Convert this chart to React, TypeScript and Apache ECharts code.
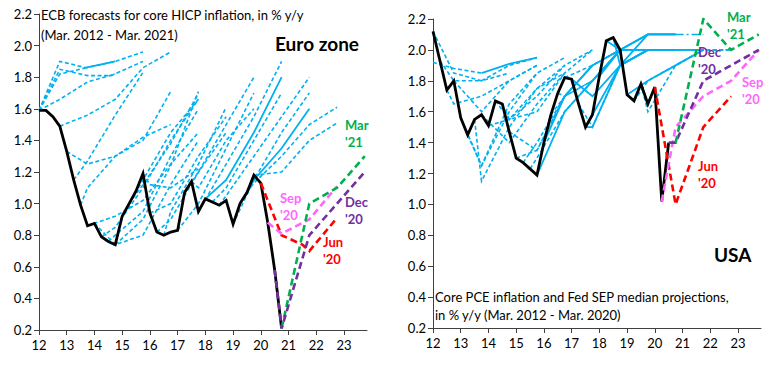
import React, { useEffect, useRef } from "react";
import * as echarts from "echarts";

type Pt = [number, number];

// ---------- Euro zone ----------
const euroActual: Pt[] = [
  [12.0, 1.59], [12.25, 1.59], [12.5, 1.55], [12.75, 1.49], [13.0, 1.33], [13.25, 1.15],
  [13.5, 0.99], [13.75, 0.86], [14.0, 0.875], [14.25, 0.79], [14.5, 0.76], [14.75, 0.74],
  [15.0, 0.92], [15.25, 1.0], [15.5, 1.08], [15.75, 1.19], [16.0, 0.94], [16.25, 0.82],
  [16.5, 0.8], [16.75, 0.82], [17.0, 0.83], [17.25, 1.07], [17.5, 1.14], [17.75, 0.95],
  [18.0, 1.03], [18.25, 1.01], [18.5, 0.99], [18.75, 1.02], [19.0, 0.87], [19.25, 1.0],
  [19.5, 1.07], [19.75, 1.18], [20.0, 1.13], [20.25, 0.88], [20.5, 0.58], [20.75, 0.21],
];

const euroForecasts: Pt[][] = [
  [[12, 1.59], [12.75, 1.9], [13.7, 1.86], [14.75, 1.9], [15.75, 1.96]],
  [[12, 1.59], [12.75, 1.85], [13.75, 1.81], [14.6, 1.81], [15.75, 1.9]],
  [[12, 1.59], [12.75, 1.82], [13.7, 1.86]],
  [[13.7, 1.86], [14.75, 1.9]],
  [[12.0, 1.59], [12.75, 1.66], [13.75, 1.77], [14.75, 1.82]],
  [[12.75, 1.49], [13.75, 1.56], [14.75, 1.66], [15.75, 1.86], [16.75, 1.96]],
  [[13.0, 1.33], [13.75, 1.25], [14.75, 1.3], [15.75, 1.4], [16.75, 1.71]],
  [[13.25, 1.15], [13.75, 1.27], [14.75, 1.56], [15.75, 1.83]],
  [[13.5, 0.99], [13.75, 1.1], [14.75, 1.3], [15.75, 1.42], [16.75, 1.5]],
  [[13.75, 0.86], [14.75, 0.92], [15.75, 1.02], [16.75, 1.25], [17.75, 1.45]],
  [[14.0, 0.875], [14.75, 0.74], [15.75, 0.8], [16.75, 1.12], [17.75, 1.4]],
  [[14.25, 0.79], [14.75, 0.85], [15.75, 1.1], [16.75, 1.4], [17.75, 1.66]],
  [[14.5, 0.76], [14.75, 0.8], [15.75, 0.95], [16.75, 1.3], [17.75, 1.6]],
  [[14.75, 0.74], [15.75, 0.9], [16.75, 1.24], [17.75, 1.71]],
  [[15.0, 0.92], [15.75, 1.15], [16.75, 1.45], [17.75, 1.66]],
  [[15.25, 1.0], [15.75, 1.12], [16.75, 1.38], [17.75, 1.7]],
  [[15.75, 1.19], [16.0, 1.12], [16.75, 1.1], [17.75, 1.22]],
  [[16.0, 0.94], [16.75, 1.0], [17.75, 1.3], [18.75, 1.55]],
  [[16.25, 0.82], [16.75, 0.9], [17.75, 1.2], [18.75, 1.45]],
  [[16.5, 0.8], [16.75, 0.95], [17.75, 1.25], [18.75, 1.61]],
  [[17.0, 0.83], [17.75, 1.0], [18.75, 1.35], [19.75, 1.7]],
  [[17.25, 1.07], [17.75, 1.2], [18.75, 1.5], [19.75, 1.8]],
  [[17.5, 1.14], [17.75, 1.1], [18.75, 1.4], [19.75, 1.6]],
  [[17.75, 0.95], [18.75, 1.25], [19.75, 1.55], [20.75, 1.9]],
  [[18.0, 1.03], [18.75, 1.15], [19.75, 1.45], [20.75, 1.8]],
  [[18.25, 1.01], [18.75, 1.1], [19.75, 1.4], [20.75, 1.7]],
  [[18.5, 0.99], [18.75, 1.05], [19.75, 1.3], [20.75, 1.55], [21.75, 1.8]],
  [[19.0, 0.87], [19.75, 1.15], [20.75, 1.45], [21.75, 1.7]],
  [[19.25, 1.0], [19.75, 1.15], [20.75, 1.35], [21.75, 1.6]],
  [[19.5, 1.07], [19.75, 1.13], [20.75, 1.3], [21.75, 1.5], [22.75, 1.61]],
  [[19.75, 1.18], [20.75, 1.2], [21.75, 1.4], [22.75, 1.51]],
];
const euroSolid: number[] = [3, 24, 28];

const euroJun20: Pt[] = [[20.0, 1.13], [20.75, 0.8], [21.5, 0.74], [21.75, 0.7], [22.75, 0.91]];
const euroSep20: Pt[] = [[20.25, 0.88], [20.75, 0.81], [21.75, 0.9], [22.75, 1.11]];
const euroDec20: Pt[] = [[20.5, 0.58], [20.75, 0.21], [21.75, 0.8], [22.75, 1.0], [23.75, 1.2]];
const euroMar21: Pt[] = [[20.75, 0.21], [21.75, 1.0], [22.75, 1.1], [23.75, 1.3]];

// ---------- USA ----------
const usActual: Pt[] = [
  [12.0, 2.12], [12.25, 1.93], [12.5, 1.74], [12.75, 1.8], [13.0, 1.56], [13.25, 1.45],
  [13.5, 1.55], [13.75, 1.58], [14.0, 1.51], [14.25, 1.67], [14.5, 1.65], [14.75, 1.47],
  [15.0, 1.3], [15.25, 1.27], [15.5, 1.23], [15.75, 1.19], [16.0, 1.4], [16.25, 1.58],
  [16.5, 1.72], [16.75, 1.82], [17.0, 1.81], [17.25, 1.65], [17.5, 1.5], [17.75, 1.58],
  [18.0, 1.83], [18.25, 2.06], [18.5, 2.08], [18.75, 2.0], [19.0, 1.71], [19.25, 1.67],
  [19.5, 1.78], [19.75, 1.65], [20.0, 1.76], [20.25, 1.02], [20.5, 1.4],
];

const usForecasts: Pt[][] = [
  [[12.0, 1.92], [12.75, 1.88], [13.75, 1.85]],
  [[13.75, 1.85], [14.75, 1.91], [15.75, 1.95]],
  [[12.0, 2.12], [12.75, 1.85], [13.75, 1.8], [14.75, 1.85]],
  [[12.25, 1.93], [12.75, 1.8], [13.75, 1.8], [14.75, 1.9], [15.75, 1.95]],
  [[12.5, 1.74], [12.75, 1.65], [13.75, 1.7], [14.75, 1.8], [15.75, 1.9]],
  [[12.75, 1.8], [13.75, 1.6], [14.75, 1.8], [15.75, 1.9]],
  [[13.0, 1.56], [13.75, 1.25], [14.75, 1.65], [15.75, 1.85]],
  [[13.25, 1.45], [13.75, 1.25], [14.75, 1.6], [15.75, 1.85], [16.75, 1.95]],
  [[13.5, 1.55], [13.75, 1.15], [14.75, 1.5], [15.75, 1.75], [16.75, 1.85]],
  [[13.75, 1.58], [14.75, 1.4], [15.75, 1.65], [16.75, 1.85]],
  [[14.0, 1.51], [14.75, 1.55], [15.75, 1.7], [16.75, 1.9]],
  [[14.25, 1.67], [14.75, 1.55], [15.75, 1.75], [16.75, 1.9], [17.75, 2.0]],
  [[14.5, 1.65], [14.75, 1.55], [15.75, 1.6], [16.75, 1.85], [17.75, 2.0]],
  [[14.75, 1.47], [15.75, 1.35], [16.75, 1.7], [17.75, 1.9]],
  [[15.0, 1.3], [15.75, 1.35], [16.75, 1.7], [17.75, 1.9]],
  [[15.25, 1.27], [15.75, 1.4], [16.75, 1.7], [17.75, 1.9], [18.75, 2.0]],
  [[15.5, 1.23], [15.75, 1.3], [16.75, 1.6], [17.75, 1.8], [18.75, 2.0]],
  [[15.75, 1.19], [16.75, 1.6], [17.75, 1.8], [18.75, 2.0]],
  [[16.0, 1.4], [16.75, 1.7], [17.75, 1.9], [18.75, 2.0]],
  [[16.25, 1.58], [16.75, 1.7], [17.75, 1.8], [18.75, 2.0], [19.75, 2.0]],
  [[16.5, 1.72], [16.75, 1.7], [17.75, 1.8], [18.75, 2.0], [19.75, 2.0]],
  [[16.75, 1.82], [17.75, 1.9], [18.75, 2.0], [19.75, 2.0]],
  [[17.0, 1.81], [17.75, 1.7], [18.75, 1.9], [19.75, 2.0]],
  [[17.25, 1.65], [17.75, 1.5], [18.75, 1.9], [19.75, 2.0], [20.75, 2.0]],
  [[17.5, 1.5], [17.75, 1.5], [18.75, 1.9], [19.75, 2.0], [20.75, 2.0]],
  [[17.75, 1.58], [18.75, 1.9], [19.75, 2.1], [20.75, 2.1]],
  [[18.0, 1.83], [18.75, 2.0], [19.75, 2.1], [20.75, 2.1]],
  [[18.25, 2.06], [18.75, 2.0], [19.75, 2.1], [20.75, 2.1]],
  [[20.75, 2.1], [21.75, 2.1]],
  [[18.5, 2.08], [18.75, 1.9], [19.75, 2.0], [20.75, 2.0], [21.75, 2.0]],
  [[18.75, 2.0], [19.75, 2.0], [20.75, 2.0], [21.75, 2.0]],
  [[19.0, 1.71], [19.75, 1.8], [20.75, 1.9], [21.75, 2.0]],
  [[19.25, 1.67], [19.75, 1.8], [20.75, 1.9], [21.75, 2.0], [22.75, 2.0]],
  [[19.5, 1.78], [19.75, 1.6], [20.75, 1.9], [21.75, 2.0], [22.75, 2.0]],
];
const usSolid: number[] = [1, 17, 18, 22, 24, 25, 26, 27, 29, 30, 31];
const usDashDot: number[] = [28];

const usJun20: Pt[] = [[20.0, 1.76], [20.75, 1.0], [21.75, 1.5], [22.75, 1.7]];
const usSep20: Pt[] = [[20.25, 1.02], [20.75, 1.5], [21.75, 1.7], [22.75, 1.8], [23.75, 2.0]];
const usDec20: Pt[] = [[20.5, 1.4], [20.75, 1.4], [21.75, 1.8], [22.75, 1.9], [23.75, 2.0]];
const usMar21: Pt[] = [[20.75, 1.4], [21.75, 2.2], [22.75, 2.0], [23.75, 2.1]];

const BLUE = "#00B0F0";
const RED = "#FF0000";
const PINK = "#FF66FF";
const PURPLE = "#7030A0";
const GREEN = "#00B050";
const FONT = "Lato, 'Open Sans', sans-serif";

export default function App() {
  const ref = useRef<HTMLDivElement>(null);
  useEffect(() => {
    if (!ref.current) return;
    const chart = echarts.init(ref.current, undefined, { renderer: "svg" });

    const series: any[] = [];
    const addLine = (data: Pt[], idx: number, color: string, width: number, type: any, z: number) => {
      series.push({
        type: "line",
        xAxisIndex: idx,
        yAxisIndex: idx,
        data,
        showSymbol: false,
        symbol: "none",
        silent: true,
        z,
        lineStyle: { color, width, type, cap: "butt", join: "miter" },
      });
    };
    const blueDash = [4, 2.5];
    const bigDash = [7, 4];
    euroForecasts.forEach((d, i) =>
      addLine(d, 0, BLUE, euroSolid.includes(i) ? 1.8 : 1.6, euroSolid.includes(i) ? "solid" : blueDash, 2)
    );
    usForecasts.forEach((d, i) => {
      const solid = usSolid.includes(i);
      const dd = usDashDot.includes(i);
      addLine(d, 1, BLUE, solid ? 1.8 : 1.6, solid ? "solid" : dd ? [8, 3, 2, 3] : blueDash, 2);
    });
    addLine(euroActual, 0, "#000", 2.8, "solid", 3);
    addLine(usActual, 1, "#000", 2.8, "solid", 3);
    addLine(euroJun20, 0, RED, 2.6, bigDash, 4);
    addLine(euroSep20, 0, PINK, 2.6, bigDash, 4);
    addLine(euroDec20, 0, PURPLE, 2.6, bigDash, 5);
    addLine(euroMar21, 0, GREEN, 2.6, bigDash, 4);
    addLine(usJun20, 1, RED, 2.6, bigDash, 4);
    addLine(usSep20, 1, PINK, 2.6, bigDash, 4);
    addLine(usDec20, 1, PURPLE, 2.6, bigDash, 4);
    addLine(usMar21, 1, GREEN, 2.6, bigDash, 4);

    const axisLine = { show: true, lineStyle: { color: "#404040", width: 1 } };
    const axisTick = { show: true, length: 5, lineStyle: { color: "#404040" } };
    const mkX = (gi: number) => ({
      type: "value",
      gridIndex: gi,
      min: 12,
      max: 23.83,
      interval: 1,
      axisLine,
      axisTick,
      splitLine: { show: false },
      axisLabel: { showMaxLabel: false, color: "#000", fontSize: 13, fontFamily: FONT, margin: 8 },
    });
    const mkY = (gi: number) => ({
      type: "value",
      gridIndex: gi,
      min: 0.2,
      max: 2.2,
      interval: 0.2,
      axisLine,
      axisTick,
      splitLine: { show: false },
      axisLabel: {
        color: "#000",
        fontSize: 13,
        fontFamily: FONT,
        margin: 7,
        formatter: (v: number) => v.toFixed(1),
      },
    });

    const txt = (text: string, left: number, top: number, fill: string, size: number, bold: boolean) => ({
      type: "text",
      left,
      top,
      silent: true,
      z: 10,
      style: { text, fill, font: `${bold ? "bold " : ""}${size}px ${FONT}` },
    });

    chart.setOption({
      animation: false,
      backgroundColor: "#fff",
      grid: [
        { left: 39, top: 14, width: 328, height: 316 },
        { left: 433, top: 19, width: 328, height: 309 },
      ],
      xAxis: [mkX(0), mkX(1)],
      yAxis: [mkY(0), mkY(1)],
      series,
      graphic: [
        txt("ECB forecasts for core HICP inflation, in % y/y", 41, 8, "#000", 13, false),
        txt("(Mar. 2012 - Mar. 2021)", 41, 28, "#000", 13, false),
        txt("Euro zone", 275, 34, "#000", 19, true),
        txt("Mar", 345, 118, GREEN, 13, true),
        txt("'21", 345, 135, GREEN, 13, true),
        txt("Sep", 280, 191, PINK, 13, true),
        txt("'20", 280, 208, PINK, 13, true),
        txt("Dec", 345, 195, PURPLE, 13, true),
        txt("'20", 345, 212, PURPLE, 13, true),
        txt("Jun", 323, 235, RED, 13, true),
        txt("'20", 323, 252, RED, 13, true),
        txt("USA", 714, 245, "#000", 19, true),
        txt("Core PCE inflation and Fed SEP median projections,", 435, 290, "#000", 13, false),
        txt("in % y/y (Mar. 2012 - Mar. 2020)", 435, 308, "#000", 13, false),
        txt("Mar", 727, 10, GREEN, 13, true),
        txt("'21", 727, 27, GREEN, 13, true),
        txt("Dec", 698, 45, PURPLE, 13, true),
        txt("'20", 698, 62, PURPLE, 13, true),
        txt("Sep", 742, 75, PINK, 13, true),
        txt("'20", 742, 92, PINK, 13, true),
        txt("Jun", 698, 159, RED, 13, true),
        txt("'20", 698, 176, RED, 13, true),
      ],
    });
    return () => chart.dispose();
  }, []);

  return (
    <div
      ref={ref}
      style={{ position: "absolute", left: 0, top: 0, width: 776, height: 365, background: "#fff" }}
    />
  );
}
